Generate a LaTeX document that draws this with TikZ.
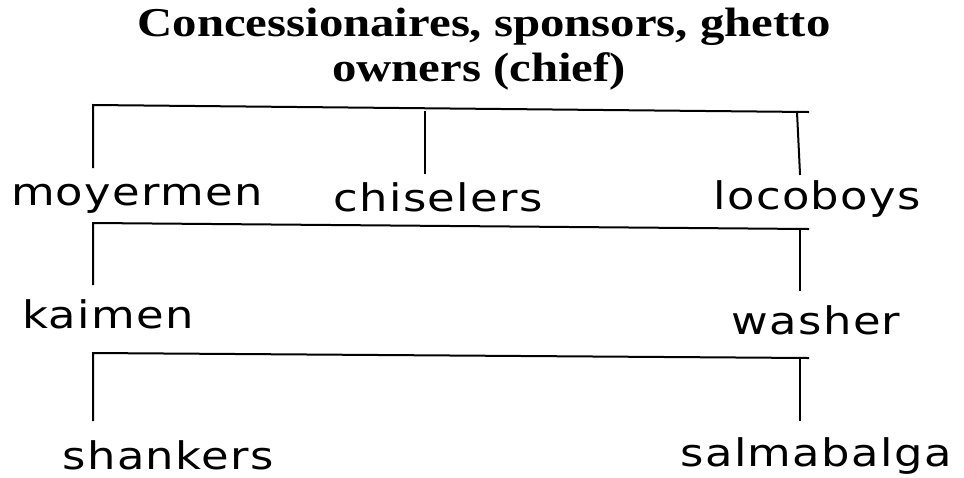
\documentclass[tikz,border=0pt]{standalone}
\usepackage{fontspec}
\usepackage{graphicx}
\setmainfont{Liberation Serif}
\newfontfamily\lblfont[LetterSpace=3]{DejaVu Sans}
\newcommand{\lbltext}[1]{\scalebox{1.18}[1]{\lblfont\fontsize{38pt}{42pt}\selectfont #1}}
\newcommand{\ttltext}[1]{\scalebox{1.19}[1]{\bfseries\fontsize{41pt}{45pt}\selectfont #1}}
\tikzset{
  lbl/.style={anchor=base, inner sep=0pt, text depth=0pt},
  ttl/.style={anchor=base, inner sep=0pt},
  conn/.style={line width=2pt, line cap=rect, black}
}
\begin{document}
\begin{tikzpicture}[x=1pt,y=-1pt]
\useasboundingbox (0,0) rectangle (964,477);
% title
\node[ttl] (t1) at (484,36) {\ttltext{Concessionaires, sponsors, ghetto}};
\node[ttl] (t2) at (479,81) {\ttltext{owners (chief)}};
% labels
\node[lbl] (moy) at (137,205) {\lbltext{moyermen}};
\node[lbl] (chi) at (438,211) {\lbltext{chiselers}};
\node[lbl] (loc) at (817,209) {\lbltext{locoboys}};
\node[lbl] (kai) at (108,328) {\lbltext{kaimen}};
\node[lbl] (was) at (816,334) {\lbltext{washer}};
\node[lbl] (sha) at (168,469) {\lbltext{shankers}};
\node[lbl] (sal) at (816,466) {\lbltext{salmabalga}};
% level 1 bar
\coordinate (a1) at (93,105);
\coordinate (a2) at (808,112);
\coordinate (a3) at (93,167);
\coordinate (a4) at (425,112);
\coordinate (a5) at (425,173);
\coordinate (a6) at (797,112);
\coordinate (a7) at (800,174);
\draw[conn] (a3) -- (a1) -- (a2);
\draw[conn] (a4) -- (a5);
\draw[conn] (a6) -- (a7);
% level 2 bar
\coordinate (b1) at (93,223);
\coordinate (b2) at (808,229);
\coordinate (b3) at (93,284);
\coordinate (b6) at (800,229);
\coordinate (b7) at (800,290);
\draw[conn] (b3) -- (b1) -- (b2);
\draw[conn] (b6) -- (b7);
% level 3 bar
\coordinate (c1) at (93,353);
\coordinate (c2) at (808,358);
\coordinate (c3) at (93,420);
\coordinate (c6) at (800,358);
\coordinate (c7) at (800,420);
\draw[conn] (c3) -- (c1) -- (c2);
\draw[conn] (c6) -- (c7);
\end{tikzpicture}
\end{document}
